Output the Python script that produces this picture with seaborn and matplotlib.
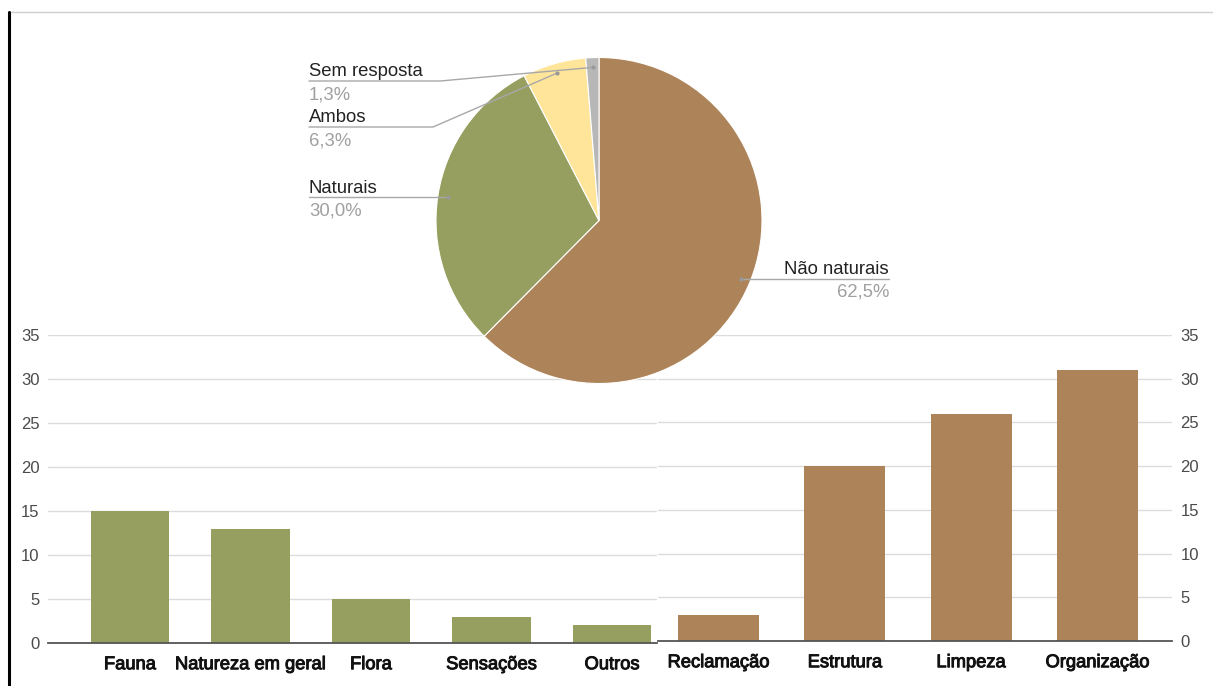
import matplotlib
matplotlib.use("Agg")
import matplotlib.pyplot as plt
import matplotlib.patheffects as pe
import seaborn as sns
import numpy as np
import pandas as pd
from matplotlib.lines import Line2D

# ---------------- data ----------------
natural_cats = ["Fauna", "Natureza em geral", "Flora", "Sensações", "Outros"]
natural_vals = [15, 13, 5, 3, 2]
nonnatural_cats = ["Reclamação", "Estrutura", "Limpeza", "Organização"]
nonnatural_vals = [3, 20, 26, 31]
pie_labels = ["Não naturais", "Naturais", "Ambos", "Sem resposta"]
pie_pcts = [62.5, 30.0, 6.3, 1.3]
pie_pct_text = ["62,5%", "30,0%", "6,3%", "1,3%"]
y_ticks = [0, 5, 10, 15, 20, 25, 30, 35]

GREEN = "#969F5F"
BROWN = "#AD8459"
YELLOW = "#FFE599"
GRAY = "#B7B7B7"

sns.set_style("white")
plt.rcParams['font.family'] = ['Liberation Sans', 'DejaVu Sans']

W, H = 1213, 686
fig = plt.figure(figsize=(W / 100, H / 100), dpi=100)


def frac(x0, y0, x1, y1):
    return [x0 / W, 1 - y1 / H, (x1 - x0) / W, (y1 - y0) / H]


axL = fig.add_axes(frac(48, 335, 657, 643))
axR = fig.add_axes(frac(658, 335, 1172, 641))

dfL = pd.DataFrame({"cat": natural_cats, "val": natural_vals})
dfR = pd.DataFrame({"cat": nonnatural_cats, "val": nonnatural_vals})
sns.barplot(data=dfL, x="cat", y="val", ax=axL, color=GREEN, width=0.65,
            saturation=1, edgecolor="none")
sns.barplot(data=dfR, x="cat", y="val", ax=axR, color=BROWN, width=0.64,
            saturation=1, edgecolor="none")


def style(ax, side):
    ax.set_ylim(0, 35)
    ax.set_yticks(y_ticks)
    ax.yaxis.grid(True, color="#dcdcdc", lw=1)
    ax.xaxis.grid(False)
    ax.set_axisbelow(True)
    for s in ax.spines.values():
        s.set_visible(False)
    ax.spines["bottom"].set_visible(True)
    ax.spines["bottom"].set_color("#555555")
    ax.spines["bottom"].set_linewidth(1.3)
    ax.tick_params(axis="both", length=0)
    ax.tick_params(axis="y", labelsize=12, labelcolor="#4a4a4a", pad=6)
    ax.tick_params(axis="x", labelsize=13.2, labelcolor="#111111", pad=9.5)
    if side == "right":
        ax.yaxis.tick_right()
        ax.tick_params(axis="y", pad=6)
    ax.set_xlabel("")
    ax.set_ylabel("")
    for lab in ax.get_xticklabels():
        lab.set_path_effects([pe.withStroke(linewidth=0.7, foreground="#111111")])
    ax.patch.set_alpha(0)


style(axL, "left")
style(axR, "right")
axL.set_xlim(-0.68, 4.373)
axR.set_xlim(-0.479, 3.59)

# ---------------- pie ----------------
cx, cy, r = 599, 220.5, 163
axP = fig.add_axes(frac(cx - r, cy - r, cx + r, cy + r))
wedges, _ = axP.pie(pie_pcts, colors=[BROWN, GREEN, YELLOW, GRAY],
                    startangle=90, counterclock=False, radius=1,
                    wedgeprops=dict(linewidth=0.8, edgecolor="white"))
axP.set_xlim(-1, 1)
axP.set_ylim(-1, 1)
axP.set_zorder(5)


def px2d(px, py):
    return (px - cx) / r, (cy - py) / r


# label layout: (text x px, side, underline y px or None, elbow x px or None)
layout = {
    "Não naturais": (889, "right", None, None),
    "Naturais": (309, "left", None, None),
    "Ambos": (309, "left", 127, 433),
    "Sem resposta": (309, "left", 81, 440),
}
LINE_C = "#a8a8a8"
for w, lab, pct in zip(wedges, pie_labels, pie_pct_text):
    mid = np.deg2rad((w.theta1 + w.theta2) / 2)
    ax_, ay_ = 0.94 * np.cos(mid), 0.94 * np.sin(mid)
    tx_px, side, uy_px, ex_px = layout[lab]
    tx, _ = px2d(tx_px, 0)
    uy = ay_ if uy_px is None else px2d(0, uy_px)[1]
    if side == "right":
        xs, ys = [ax_, tx], [ay_, uy]
    elif ex_px is None:
        xs, ys = [tx, ax_], [uy, ay_]
    else:
        ex = px2d(ex_px, 0)[0]
        xs, ys = [tx, ex, ax_], [uy, uy, ay_]
    axP.add_line(Line2D(xs, ys, color=LINE_C, lw=1, clip_on=False, zorder=6))
    axP.plot([ax_], [ay_], "o", ms=2, color="#999999", clip_on=False, zorder=7)
    ha = "right" if side == "right" else "left"
    axP.text(tx, uy + 4.5 / r, lab, ha=ha, va="baseline", fontsize=13.3,
             color="#222222", clip_on=False, zorder=7)
    axP.text(tx, uy - 18 / r, pct, ha=ha, va="baseline", fontsize=13.3,
             color="#a0a0a0", clip_on=False, zorder=7)

# ---------------- frame lines ----------------
fig.add_artist(Line2D([8 / W, 1], [1 - 12 / H, 1 - 12 / H], color="#cfcfcf",
                      lw=1, transform=fig.transFigure))
fig.add_artist(Line2D([9 / W, 9 / W], [1 - 12 / H, 0], color="black",
                      lw=2.2, transform=fig.transFigure))

fig.savefig("out.png", dpi=100)
